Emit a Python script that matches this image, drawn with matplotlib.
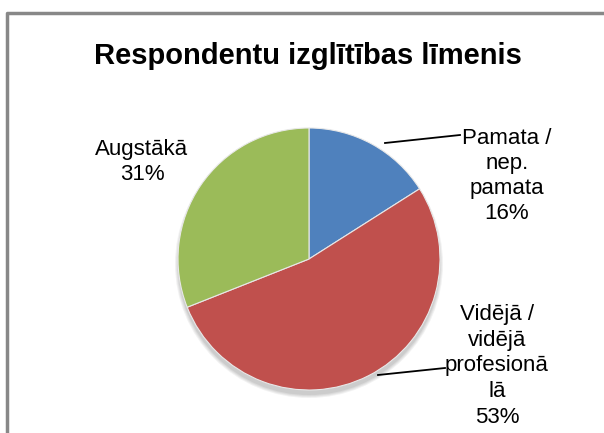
import matplotlib
matplotlib.use("Agg")
import matplotlib.pyplot as plt
from matplotlib.patches import Ellipse

categories = ["Pamata /\nnep.\npamata", "Vidējā /\nvidējā\nprofesionā\nlā", "Augstākā"]
values = [16, 53, 31]
colors = ["#4F81BD", "#C0504D", "#9BBB59"]
title = "Respondentu izglītības līmenis"

fam = "Liberation Sans"

W, H = 604, 433
fig = plt.figure(figsize=(W / 100, H / 100), dpi=100)
ax = fig.add_axes([0, 0, 1, 1])

# chart frame
ax.plot([7, 7, W + 5], [-5, H - 13, H - 13], color="#888888", lw=2.5, solid_capstyle="butt")

cx, cy, r = 309, H - 259, 131

# soft shadow
for i, a in enumerate([0.05, 0.05, 0.05, 0.06]):
    ax.add_patch(Ellipse((cx, cy - 5), 2 * r + 6 - 2 * i, 2 * r + 6 - 2 * i,
                         facecolor="black", edgecolor="none", alpha=a))

wedges, _ = ax.pie(values, colors=colors, startangle=90, counterclock=False,
                   center=(cx, cy), radius=r, frame=True,
                   wedgeprops=dict(edgecolor="#e8e8e8", linewidth=0.8))
ax.set_xlim(0, W)
ax.set_ylim(0, H)
ax.set_aspect("equal")
ax.axis("off")

ax.text(W / 2 + 6, H - 56, title, ha="center", va="center", fontsize=21,
        fontweight="bold", family=fam)

lab_fs = 16
ax.text(142, H - 162, f"{categories[2]}\n{values[2]}%", ha="center", va="center",
        fontsize=lab_fs, family=fam, linespacing=1.3)
ax.text(507, H - 176, f"{categories[0]}\n{values[0]}%", ha="center", va="center",
        fontsize=lab_fs, family=fam, linespacing=1.25)
ax.text(497, H - 366, f"{categories[1]}\n{values[1]}%", ha="center", va="center",
        fontsize=lab_fs, family=fam, linespacing=1.3)

# leader lines
ax.plot([385, 460], [H - 143, H - 135], color="black", lw=1.3)
ax.plot([378, 445], [H - 375, H - 368], color="black", lw=1.3)

fig.savefig("out.png", dpi=100)
